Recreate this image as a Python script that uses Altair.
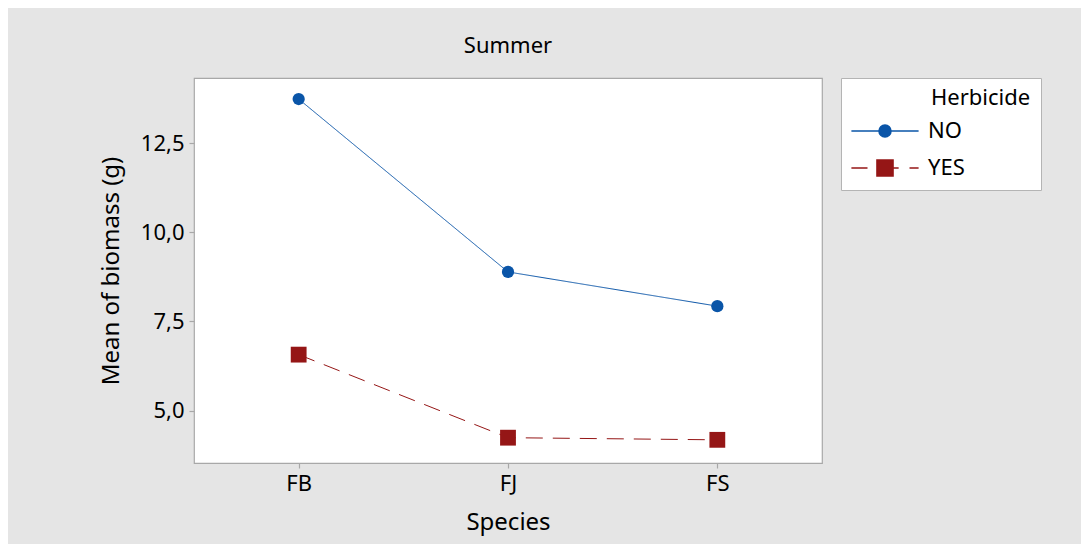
import altair as alt
import pandas as pd

species = ["FB", "FJ", "FS"]
herbicide_levels = ["NO", "YES"]
no_vals = [13.74, 8.89, 7.93]
yes_vals = [6.57, 4.24, 4.18]
y_ticks = [5.0, 7.5, 10.0, 12.5]

df = pd.DataFrame({
    "Species": species * 2,
    "Herbicide": ["NO"] * 3 + ["YES"] * 3,
    "biomass": no_vals + yes_vals,
})

FONT = "Noto Sans"
colors = ["#0a55a8", "#951616"]
color_scale = alt.Scale(domain=herbicide_levels, range=colors)

# legend symbols: line + marker drawn as one path in unit coordinates
circle = "M-0.86,0 A0.86,0.86 0 1,0 0.86,0 A0.86,0.86 0 1,0 -0.86,0 Z"
path_no = "M-4.8,0 L-0.86,0 " + circle + " M0.86,0 L4.8,0"
path_yes = ("M-4.8,0 L-2.5,0 M-1.15,-1.15 L1.15,-1.15 L1.15,1.15 L-1.15,1.15 Z "
            "M1.15,0 L1.95,0 M3.5,0 L4.8,0")

x_enc = alt.X("Species:N", scale=alt.Scale(type="point", padding=0.5, domain=species),
              axis=alt.Axis(title="Species", labelAngle=0))
y_enc = alt.Y("biomass:Q", scale=alt.Scale(domain=[3.53, 14.33], nice=False, zero=False),
              axis=alt.Axis(title="Mean of biomass (g)", values=y_ticks,
                            labelExpr="replace(format(datum.value, '.1f'), '.', ',')"))

lines = alt.Chart(df).mark_line(strokeWidth=1.0).encode(
    x=x_enc, y=y_enc,
    color=alt.Color("Herbicide:N", scale=color_scale, legend=None),
    strokeDash=alt.StrokeDash("Herbicide:N",
                              scale=alt.Scale(domain=herbicide_levels, range=[[1, 0], [17, 10]]),
                              legend=None),
)

points = alt.Chart(df).mark_point(filled=True, opacity=1).encode(
    x=x_enc, y=y_enc,
    color=alt.Color("Herbicide:N", scale=color_scale, legend=None),
    shape=alt.Shape("Herbicide:N", scale=alt.Scale(domain=herbicide_levels, range=["circle", "square"]),
                    legend=None),
    size=alt.Size("Herbicide:N", scale=alt.Scale(domain=herbicide_levels, range=[150, 250]), legend=None),
)

leg = alt.Legend(
    title="\u2800" * 5 + "Herbicide",
    orient="none", legendX=647, legendY=0,
    fillColor="white", strokeColor="#b4b4b4", padding=10,
    titleFont=FONT, titleFontSize=22, titleFontWeight="normal", titleColor="black",
    titlePadding=10, titleLimit=400, labelFont=FONT, labelFontSize=22, labelColor="black",
    symbolSize=196, symbolOffset=23, labelOffset=32, rowPadding=14,
    symbolStrokeWidth=1.5, symbolOpacity=1,
)

legend_layer = alt.Chart(df).transform_filter("false").mark_point(filled=True, opacity=1, strokeWidth=1.5).encode(
    x=x_enc, y=y_enc,
    color=alt.Color("Herbicide:N", scale=color_scale, legend=leg),
    stroke=alt.Stroke("Herbicide:N", scale=color_scale, legend=leg),
    shape=alt.Shape("Herbicide:N", scale=alt.Scale(domain=herbicide_levels, range=[path_no, path_yes]),
                    legend=leg),
)

chart = alt.layer(lines, points, legend_layer).resolve_scale(
    shape="independent"
).resolve_legend(
    color="independent", shape="independent", stroke="independent",
    strokeDash="independent", size="independent"
).properties(
    width=628, height=385,
    title=alt.TitleParams("Summer", font=FONT, fontSize=22, fontWeight="normal", color="black",
                          anchor="middle", frame="group", offset=20),
    padding={"left": 186, "top": 70, "right": 259, "bottom": 81},
    autosize=alt.AutoSizeParams(type="none"),
    background="#e5e5e5",
).configure_view(
    stroke="#a8a8a8", strokeWidth=1.2, fill="white"
).configure_axis(
    grid=False, domain=False, tickColor="#a8a8a8", tickSize=5, tickWidth=1.2,
    labelFont=FONT, labelFontSize=22, labelColor="black", labelPadding=5,
    titleFont=FONT, titleFontSize=24, titleFontWeight="normal", titleColor="black",
).configure_axisY(titlePadding=17).configure_axisX(titlePadding=16)

chart.save("out.html", embed_options={"renderer": "svg", "actions": False})
